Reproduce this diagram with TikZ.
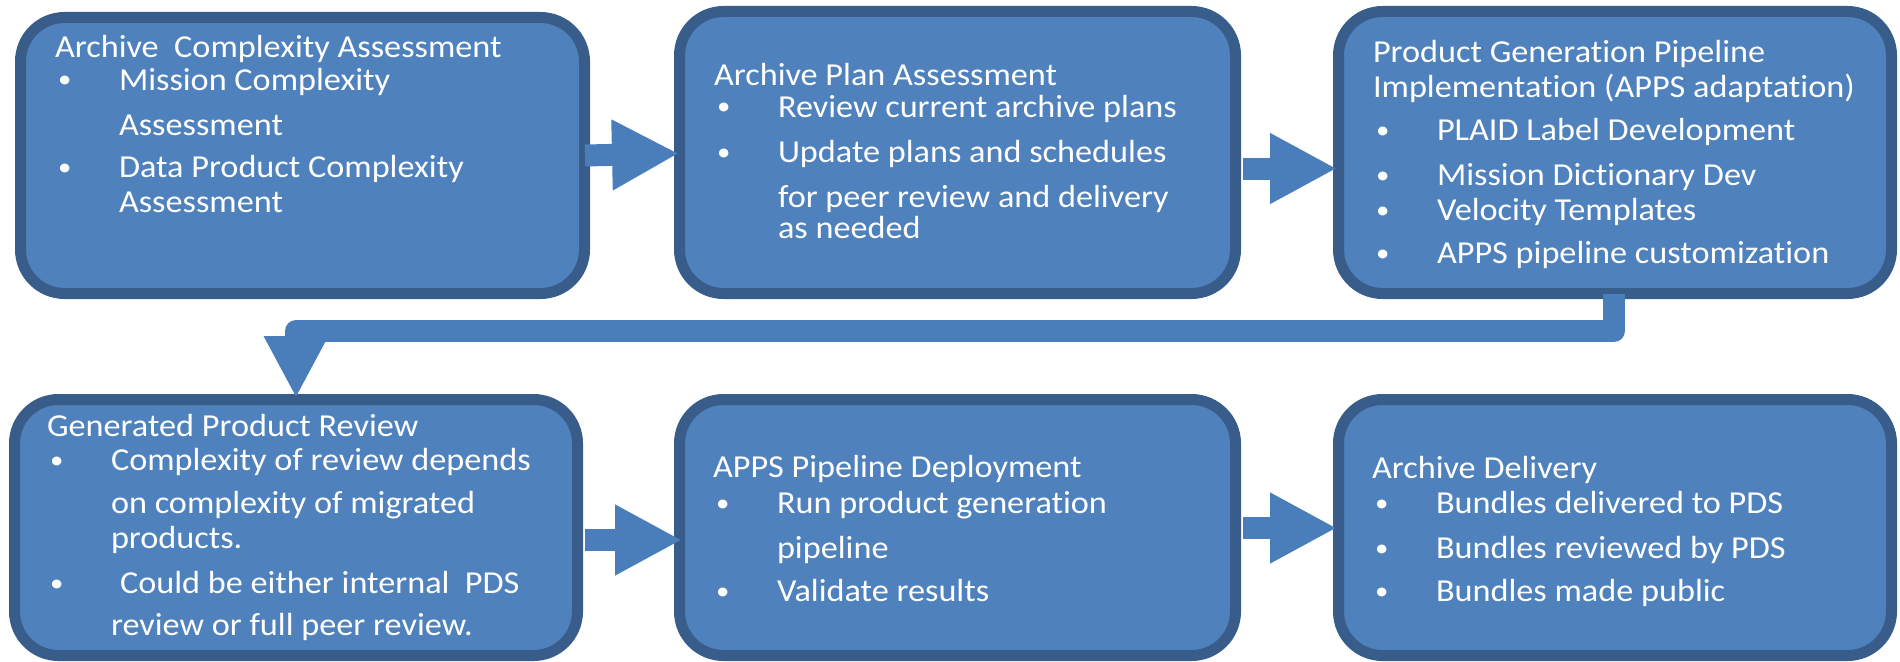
\documentclass[tikz,border=0pt]{standalone}
\usepackage{fontspec}
\setmainfont{Carlito}[FakeStretch=1.07,Ligatures={NoCommon}]
\usetikzlibrary{arrows.meta,calc}
\definecolor{boxfill}{HTML}{4F81BD}
\definecolor{boxline}{HTML}{385D8A}
\definecolor{arrfill}{HTML}{4A7EBB}
\tikzset{
  box/.style={draw=boxline, fill=boxfill, line width=11pt, rounded corners=44pt, inner sep=0pt, outer sep=5.5pt},
  txt/.style={anchor=base west, inner sep=0pt, outer sep=0pt, text=white, font=\fontsize{32}{38}\selectfont},
  blk/.style={draw=arrfill, line width=22pt, -{Triangle[length=67pt,width=66pt,fill=arrfill]}},
  bent/.style={draw=arrfill, line width=22pt, line join=round, -{Triangle[length=62pt,width=60pt,fill=arrfill]}},
}
\newcommand\tline[4]{\node[txt] (#1) at (#2,#3) {#4};}
\newcommand\tbul[3]{\node[txt] (#1) at (#2+3,#3) {\raisebox{2pt}{\fontsize{25}{30}\selectfont\textbullet}};}
\begin{document}
\begin{tikzpicture}[x=1pt,y=-1pt]
\useasboundingbox (0,0) rectangle (1900,661);
% boxes
\node[box, minimum width=564pt, minimum height=276pt] (b1) at (302.5,155.5) {};
\node[box, minimum width=556pt, minimum height=282pt] (b2) at (957.5,152.5) {};
\node[box, minimum width=553pt, minimum height=282pt] (b3) at (1615,152.5) {};
\node[box, minimum width=563pt, minimum height=256pt] (b4) at (296,527.5) {};
\node[box, minimum width=556pt, minimum height=256pt] (b5) at (957.5,527.5) {};
\node[box, minimum width=553pt, minimum height=256pt] (b6) at (1615,527.5) {};
% connectors
\draw[blk] ($(b1.east)+(-5,0)$) -- ($(b2.west |- b1.east)+(5,-2)$);
\draw[blk] ($(b2.east)+(2,16)$) -- ($(b3.west |- b2.east)+(4,16)$);
\draw[blk] ($(b4.east)+(2,12.5)$) -- ($(b5.west |- b4.east)+(8,12.5)$);
\draw[blk] ($(b5.east)+(2,0.5)$) -- ($(b6.west |- b5.east)+(4,0.5)$);
\draw[bent] ($(b3.south)+(-1,-5)$) |- ($(b4.north)+(0,-63)$) -- ($(b4.north)+(0,4)$);
% box 1 text
\tline{b1t0}{55}{58}{Archive\ \ Complexity Assessment}
\tbul{b1d1}{55}{90}
\tline{b1t1}{119}{90}{Mission Complexity}
\tline{b1t2}{119}{135}{Assessment}
\tbul{b1d2}{55}{177}
\tline{b1t3}{119}{177}{Data Product Complexity}
\tline{b1t4}{119}{212}{Assessment}
% box 2 text
\tline{b2t0}{714}{85}{Archive Plan Assessment}
\tbul{b2d1}{714}{117}
\tline{b2t1}{778}{117}{Review current archive plans}
\tbul{b2d2}{714}{162}
\tline{b2t2}{778}{162}{Update plans and schedules}
\tline{b2t3}{778}{207}{for peer review and delivery}
\tline{b2t4}{778}{238}{as needed}
% box 3 text
\tline{b3t0}{1373}{63}{Product Generation Pipeline}
\tline{b3t1}{1373}{97}{Implementation (APPS adaptation)}
\tbul{b3d1}{1373}{140}
\tline{b3t2}{1437}{140}{PLAID Label Development}
\tbul{b3d2}{1373}{185}
\tline{b3t3}{1437}{185}{Mission Dictionary Dev}
\tbul{b3d3}{1373}{220}
\tline{b3t4}{1437}{220}{Velocity Templates}
\tbul{b3d4}{1373}{263}
\tline{b3t5}{1437}{263}{APPS pipeline customization}
% box 4 text
\tline{b4t0}{47}{436}{Generated Product Review}
\tbul{b4d1}{47}{470}
\tline{b4t1}{111}{470}{Complexity of review depends}
\tline{b4t2}{111}{513}{on complexity of migrated}
\tline{b4t3}{111}{548}{products.}
\tbul{b4d2}{47}{593}
\tline{b4t4}{120}{593}{Could be either internal\ \ PDS}
\tline{b4t5}{111}{635}{review or full peer review.}
% box 5 text
\tline{b5t0}{713}{477}{APPS Pipeline Deployment}
\tbul{b5d1}{713}{513}
\tline{b5t1}{777}{513}{Run product generation}
\tline{b5t2}{777}{558}{pipeline}
\tbul{b5d2}{713}{601}
\tline{b5t3}{777}{601}{Validate results}
% box 6 text
\tline{b6t0}{1372}{478}{Archive Delivery}
\tbul{b6d1}{1372}{513}
\tline{b6t1}{1436}{513}{Bundles delivered to PDS}
\tbul{b6d2}{1372}{558}
\tline{b6t2}{1436}{558}{Bundles reviewed by PDS}
\tbul{b6d3}{1372}{601}
\tline{b6t3}{1436}{601}{Bundles made public}
\end{tikzpicture}
\end{document}
